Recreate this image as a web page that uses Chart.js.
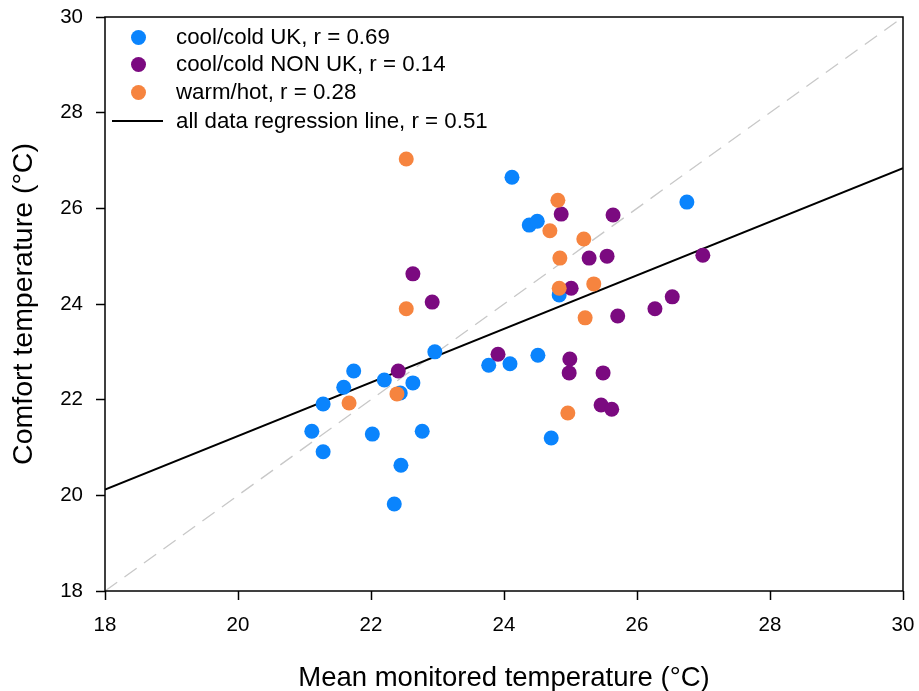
<!DOCTYPE html>
<html>
<head>
<meta charset="utf-8">
<script src="https://cdn.jsdelivr.net/npm/chart.js@4"></script>
<style>
  html, body { margin: 0; padding: 0; background: #fff; }
  #wrap { position: relative; width: 919px; height: 691px; }
  #legend { position: absolute; left: 0; top: 0; font-family: "Liberation Sans", Arial, sans-serif; font-size: 22.3px; color: #000; }
  #legend .row { position: absolute; left: 0; height: 28px; width: 500px; }
  #legend .dot { position: absolute; left: 130.5px; top: 6.5px; width: 15px; height: 15px; border-radius: 50%; }
  #legend .ln { position: absolute; left: 112px; top: 13px; width: 51px; height: 2px; background: #000; }
  #legend .txt { position: absolute; left: 176px; top: 0; line-height: 28px; white-space: nowrap; }
</style>
</head>
<body>
<div id="wrap">
  <canvas id="c" width="919" height="691"></canvas>
  <div id="legend"></div>
</div>
<script>
// cool/cold UK
const ukX = [21.11, 21.28, 21.28, 21.59, 21.74, 22.02, 22.20, 22.63, 22.44, 22.77, 22.45, 22.35, 22.96, 23.77, 24.09, 24.51, 24.12, 24.38, 24.50, 24.83, 24.71, 26.75];
const ukY = [21.34, 21.91, 20.91, 22.26, 22.60, 21.28, 22.41, 22.35, 22.14, 21.34, 20.63, 19.82, 23.00, 22.72, 22.75, 22.93, 26.65, 25.65, 25.73, 24.19, 21.20, 26.13];

// cool/cold NON UK
const nonUkX = [22.63, 22.92, 22.41, 23.91, 24.86, 25.64, 25.28, 25.55, 26.99, 25.01, 25.71, 26.27, 26.53, 24.99, 24.98, 25.49, 25.46, 25.62];
const nonUkY = [24.63, 24.04, 22.60, 22.95, 25.88, 25.86, 24.96, 25.00, 25.02, 24.33, 23.75, 23.90, 24.15, 22.85, 22.56, 22.56, 21.89, 21.80];

// warm/hot
const warmX = [22.53, 22.53, 21.67, 22.39, 24.81, 24.69, 25.20, 24.84, 24.83, 25.35, 25.22, 24.96];
const warmY = [27.03, 23.90, 21.93, 22.12, 26.17, 25.53, 25.36, 24.96, 24.33, 24.42, 23.71, 21.72];

// all data regression line (end points) and 1:1 line
const regX = [18, 30];
const regY = [20.12, 26.84];
const idX = [18, 30];
const idY = [18, 30];

const xTicks = [18, 20, 22, 24, 26, 28, 30];
const yTicks = [18, 20, 22, 24, 26, 28, 30];

const labels = ['cool/cold UK, r = 0.69', 'cool/cold NON UK, r = 0.14', 'warm/hot, r = 0.28', 'all data regression line, r = 0.51'];
const colors = ['#0a84fd', '#7b0a80', '#f6843f', '#000000'];
const legendRowY = [37, 64, 92, 121];

const pts = (xs, ys) => xs.map((x, i) => ({ x: x, y: ys[i] }));

const font = "'Liberation Sans', Arial, sans-serif";

const frame = {
    id: 'frame',
    afterDraw(chart) {
        const a = chart.chartArea;
        const ctx = chart.ctx;
        ctx.save();
        ctx.strokeStyle = '#000';
        ctx.lineWidth = 1.5;
        ctx.strokeRect(a.left, a.top, a.right - a.left, a.bottom - a.top);
        ctx.restore();
    }
};

new Chart(document.getElementById('c'), {
    type: 'scatter',
    data: {
        datasets: [
            {
                type: 'line',
                data: pts(idX, idY),
                borderColor: '#c8c8c8',
                borderWidth: 1.3,
                borderDash: [15, 9],
                pointRadius: 0,
                order: 5
            },
            {
                type: 'line',
                data: pts(regX, regY),
                borderColor: '#000',
                borderWidth: 2,
                pointRadius: 0,
                order: 4
            },
            { label: labels[0], data: pts(ukX, ukY), backgroundColor: colors[0], borderWidth: 0, pointRadius: 7.5, order: 3 },
            { label: labels[1], data: pts(nonUkX, nonUkY), backgroundColor: colors[1], borderWidth: 0, pointRadius: 7.5, order: 2 },
            { label: labels[2], data: pts(warmX, warmY), backgroundColor: colors[2], borderWidth: 0, pointRadius: 7.5, order: 1 }
        ]
    },
    options: {
        responsive: false,
        animation: false,
        layout: { padding: { top: 17, right: 16, left: 0, bottom: 0 } },
        plugins: {
            legend: { display: false },
            tooltip: { enabled: false }
        },
        scales: {
            x: {
                type: 'linear',
                min: 18,
                max: 30,
                afterFit: (s) => { s.height = 100; s.paddingLeft = 0; s.paddingRight = 0; },
                afterBuildTicks: (s) => { s.ticks = xTicks.map(v => ({ value: v })); },
                grid: { drawOnChartArea: false, tickLength: 9, color: '#000', tickWidth: 1.5 },
                border: { display: false },
                ticks: { color: '#000', font: { family: font, size: 20.5 }, padding: 13 },
                title: {
                    display: true,
                    text: 'Mean monitored temperature (\u00B0C)',
                    color: '#000',
                    font: { family: font, size: 27.5 },
                    padding: { top: 0, bottom: -4 }
                }
            },
            y: {
                type: 'linear',
                min: 18,
                max: 30,
                afterFit: (s) => { s.width = 105; s.paddingTop = 0; s.paddingBottom = 0; },
                afterBuildTicks: (s) => { s.ticks = yTicks.map(v => ({ value: v })); },
                grid: { drawOnChartArea: false, tickLength: 9, color: '#000', tickWidth: 1.5 },
                border: { display: false },
                ticks: { color: '#000', font: { family: font, size: 20.5 }, padding: 13 },
                title: {
                    display: true,
                    text: 'Comfort temperature (\u00B0C)',
                    color: '#000',
                    font: { family: font, size: 28.5 },
                    padding: { bottom: 0, top: 7 }
                }
            }
        }
    },
    plugins: [frame]
});

const leg = document.getElementById('legend');
labels.forEach((t, i) => {
    const row = document.createElement('div');
    row.className = 'row';
    row.style.top = (legendRowY[i] - 14) + 'px';
    const m = document.createElement('div');
    if (i < 3) {
        m.className = 'dot';
        m.style.background = colors[i];
    } else {
        m.className = 'ln';
    }
    const txt = document.createElement('span');
    txt.className = 'txt';
    txt.textContent = t;
    row.appendChild(m);
    row.appendChild(txt);
    leg.appendChild(row);
});
</script>
</body>
</html>
